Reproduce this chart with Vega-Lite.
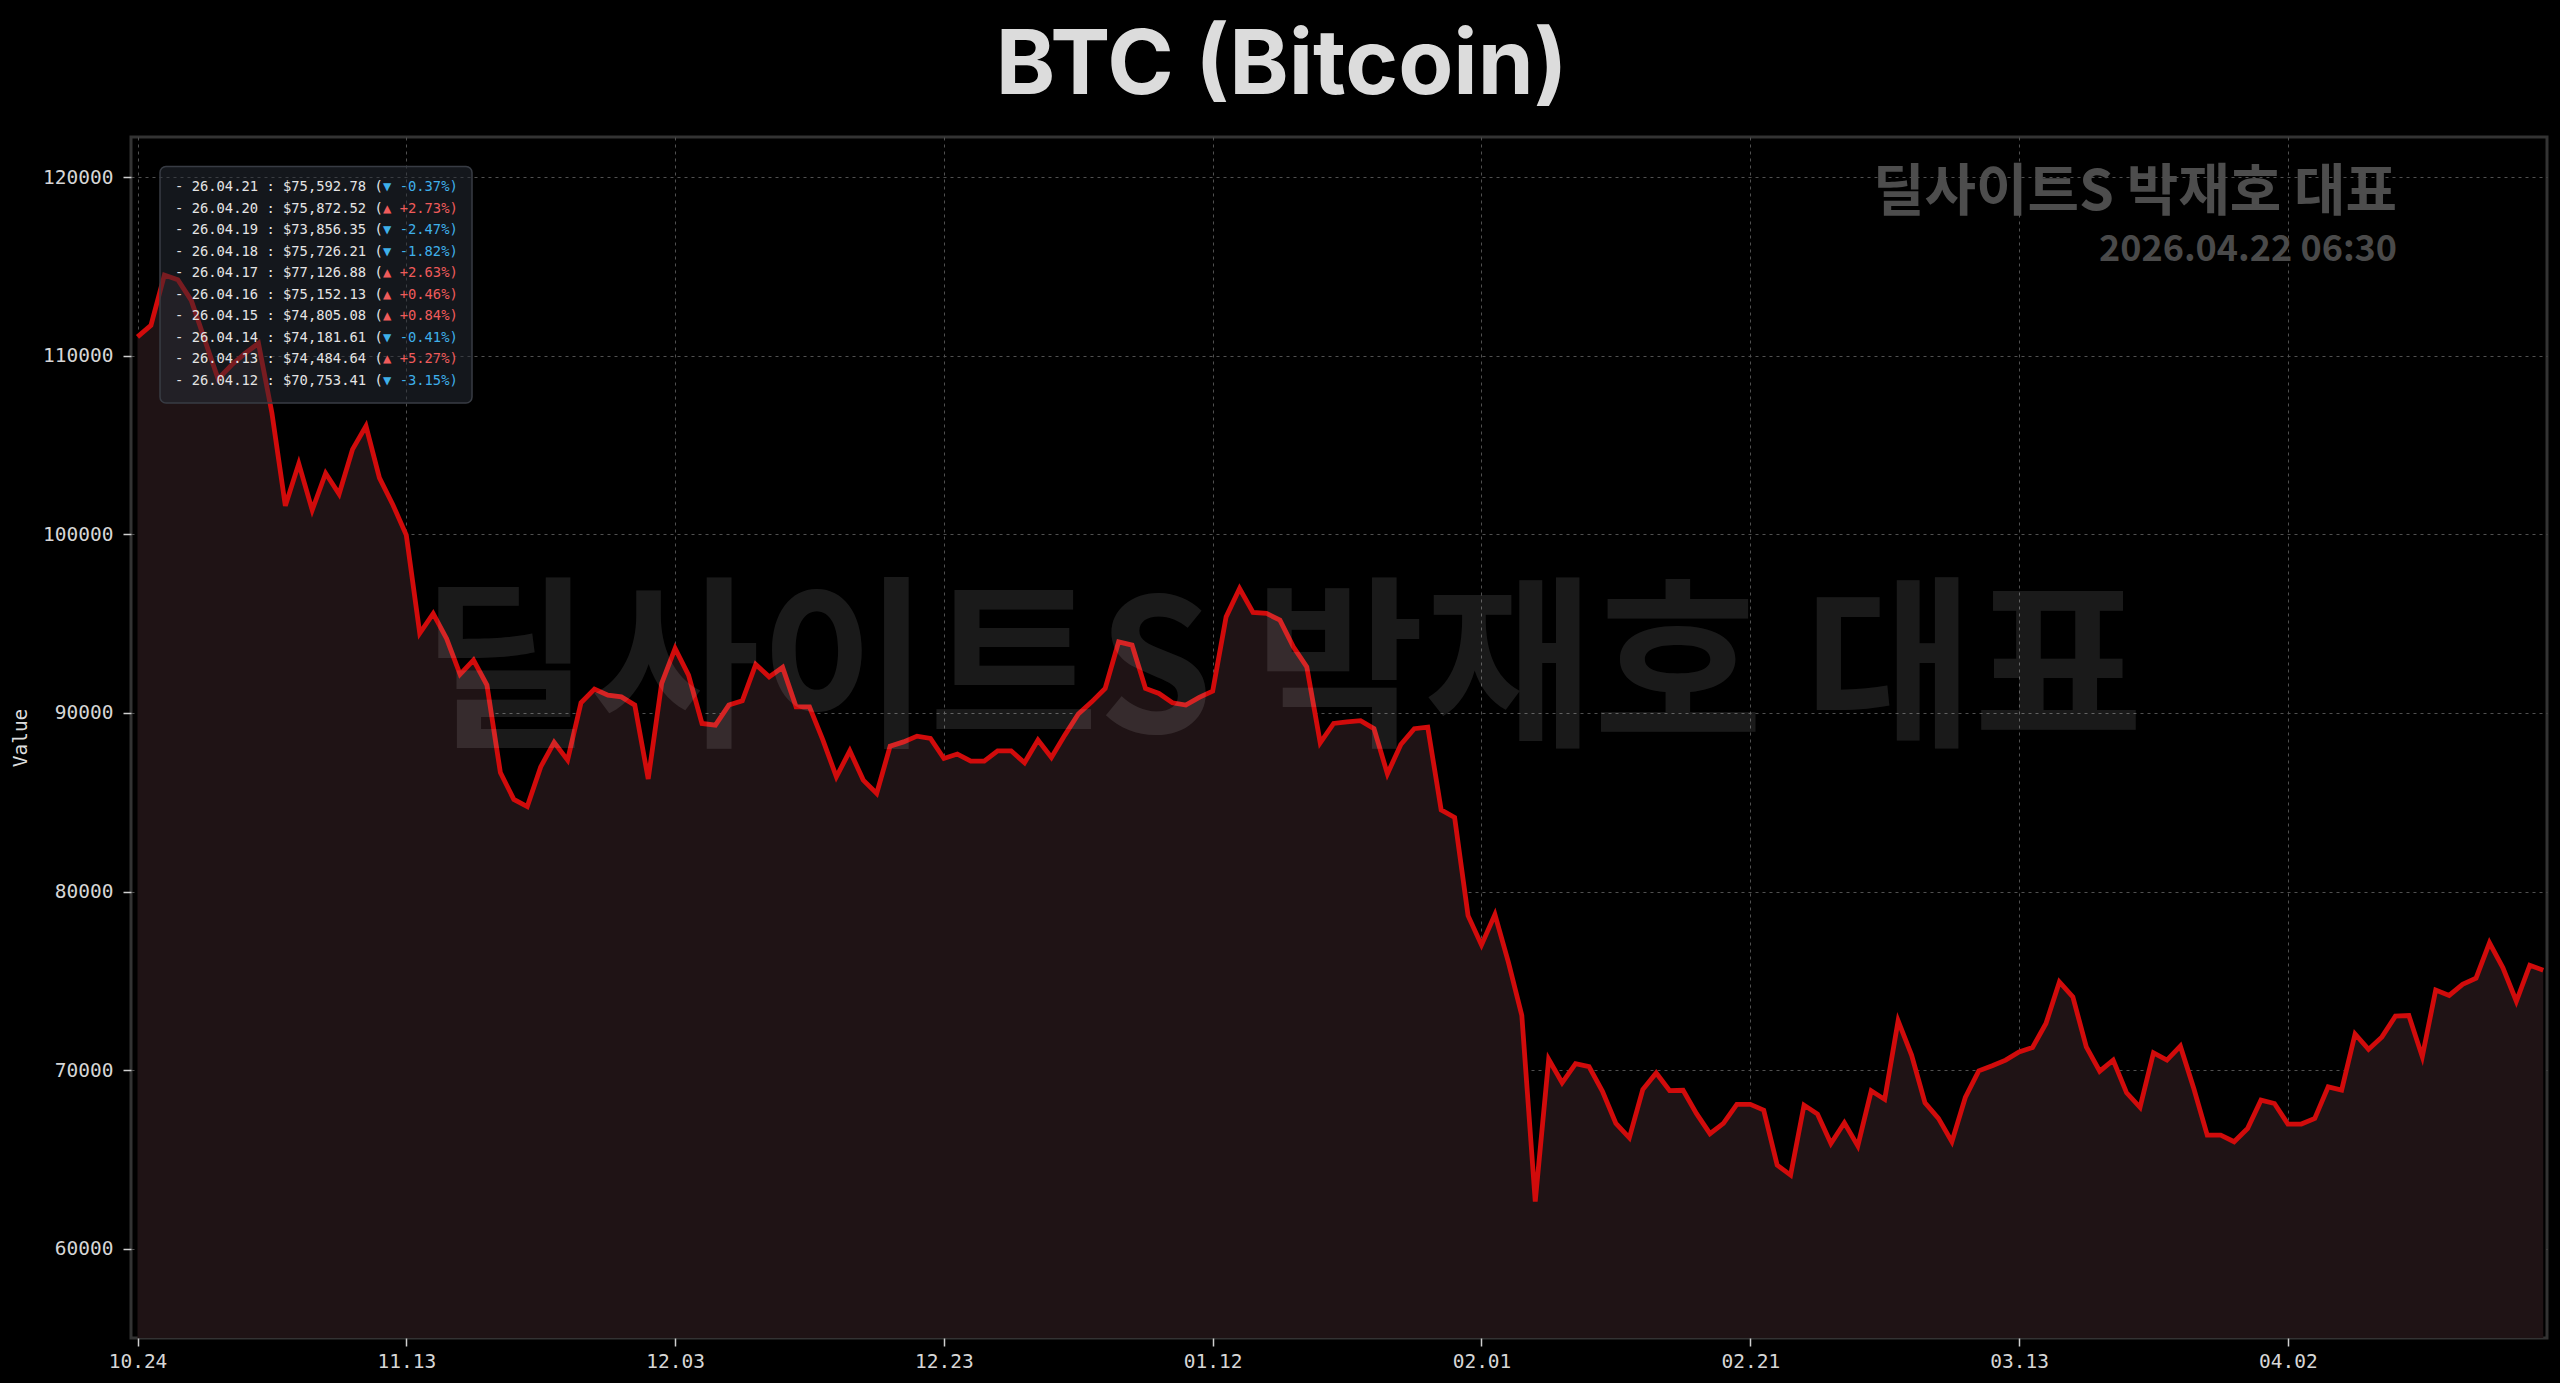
{
  "$schema": "https://vega.github.io/schema/vega-lite/v6.json",
  "autosize": {"type": "none"},
  "padding": {"left": 131, "top": 137, "right": 13, "bottom": 45},
  "width": 2416,
  "height": 1201,
  "background": "#000000",
  "title": {
    "text": "BTC (Bitcoin)",
    "font": "Inter",
    "fontWeight": "bold",
    "fontSize": 90,
    "color": "#dcdcdc",
    "anchor": "middle",
    "frame": "bounds",
    "baseline": "alphabetic",
    "offset": 38,
    "dy": 85
  },
  "config": {
    "view": {"stroke": "#333333", "strokeWidth": 3},
    "axis": {
      "domain": false,
      "tickColor": "#cfcfcf",
      "tickSize": 8,
      "tickWidth": 1.5,
      "grid": true,
      "gridColor": "#505050",
      "gridDash": [3, 4],
      "gridWidth": 1,
      "labelFont": "DejaVu Sans Mono",
      "labelFontSize": 19.5,
      "labelColor": "#d6d6d6",
      "titleFont": "DejaVu Sans Mono",
      "titleFontWeight": "normal",
      "titleFontSize": 19.5,
      "titleColor": "#dddddd"
    }
  },
  "datasets": {
    "btc": [
      {"date": "2025-10-24", "price": 111060}, {"date": "2025-10-25", "price": 111700}, {"date": "2025-10-26", "price": 114520}, {"date": "2025-10-27", "price": 114260}, {"date": "2025-10-28", "price": 113100}, {"date": "2025-10-29", "price": 110900}, {"date": "2025-10-30", "price": 108700}, {"date": "2025-10-31", "price": 109480},
      {"date": "2025-11-01", "price": 110130}, {"date": "2025-11-02", "price": 110700}, {"date": "2025-11-03", "price": 106800}, {"date": "2025-11-04", "price": 101600}, {"date": "2025-11-05", "price": 103960}, {"date": "2025-11-06", "price": 101360}, {"date": "2025-11-07", "price": 103420}, {"date": "2025-11-08", "price": 102260}, {"date": "2025-11-09", "price": 104760}, {"date": "2025-11-10", "price": 106060},
      {"date": "2025-11-11", "price": 103160}, {"date": "2025-11-12", "price": 101660}, {"date": "2025-11-13", "price": 99960}, {"date": "2025-11-14", "price": 94460}, {"date": "2025-11-15", "price": 95560}, {"date": "2025-11-16", "price": 94160}, {"date": "2025-11-17", "price": 92160}, {"date": "2025-11-18", "price": 92960}, {"date": "2025-11-19", "price": 91560}, {"date": "2025-11-20", "price": 86660},
      {"date": "2025-11-21", "price": 85160}, {"date": "2025-11-22", "price": 84760}, {"date": "2025-11-23", "price": 86980}, {"date": "2025-11-24", "price": 88350}, {"date": "2025-11-25", "price": 87360}, {"date": "2025-11-26", "price": 90570}, {"date": "2025-11-27", "price": 91340}, {"date": "2025-11-28", "price": 91000}, {"date": "2025-11-29", "price": 90900}, {"date": "2025-11-30", "price": 90440},
      {"date": "2025-12-01", "price": 86300}, {"date": "2025-12-02", "price": 91650}, {"date": "2025-12-03", "price": 93610}, {"date": "2025-12-04", "price": 92120}, {"date": "2025-12-05", "price": 89410}, {"date": "2025-12-06", "price": 89320}, {"date": "2025-12-07", "price": 90440}, {"date": "2025-12-08", "price": 90680}, {"date": "2025-12-09", "price": 92720}, {"date": "2025-12-10", "price": 92020},
      {"date": "2025-12-11", "price": 92550}, {"date": "2025-12-12", "price": 90340}, {"date": "2025-12-13", "price": 90340}, {"date": "2025-12-14", "price": 88480}, {"date": "2025-12-15", "price": 86420}, {"date": "2025-12-16", "price": 87880}, {"date": "2025-12-17", "price": 86240}, {"date": "2025-12-18", "price": 85490}, {"date": "2025-12-19", "price": 88140}, {"date": "2025-12-20", "price": 88380},
      {"date": "2025-12-21", "price": 88700}, {"date": "2025-12-22", "price": 88570}, {"date": "2025-12-23", "price": 87450}, {"date": "2025-12-24", "price": 87700}, {"date": "2025-12-25", "price": 87300}, {"date": "2025-12-26", "price": 87300}, {"date": "2025-12-27", "price": 87880}, {"date": "2025-12-28", "price": 87880}, {"date": "2025-12-29", "price": 87210}, {"date": "2025-12-30", "price": 88480}, {"date": "2025-12-31", "price": 87510},
      {"date": "2026-01-01", "price": 88760}, {"date": "2026-01-02", "price": 89940}, {"date": "2026-01-03", "price": 90620}, {"date": "2026-01-04", "price": 91370}, {"date": "2026-01-05", "price": 93980}, {"date": "2026-01-06", "price": 93800}, {"date": "2026-01-07", "price": 91370}, {"date": "2026-01-08", "price": 91090}, {"date": "2026-01-09", "price": 90570}, {"date": "2026-01-10", "price": 90440},
      {"date": "2026-01-11", "price": 90870}, {"date": "2026-01-12", "price": 91220}, {"date": "2026-01-13", "price": 95380}, {"date": "2026-01-14", "price": 96970}, {"date": "2026-01-15", "price": 95630}, {"date": "2026-01-16", "price": 95570}, {"date": "2026-01-17", "price": 95200}, {"date": "2026-01-18", "price": 93700}, {"date": "2026-01-19", "price": 92580}, {"date": "2026-01-20", "price": 88330},
      {"date": "2026-01-21", "price": 89410}, {"date": "2026-01-22", "price": 89500}, {"date": "2026-01-23", "price": 89570}, {"date": "2026-01-24", "price": 89120}, {"date": "2026-01-25", "price": 86590}, {"date": "2026-01-26", "price": 88230}, {"date": "2026-01-27", "price": 89120}, {"date": "2026-01-28", "price": 89200}, {"date": "2026-01-29", "price": 84570}, {"date": "2026-01-30", "price": 84150}, {"date": "2026-01-31", "price": 78650},
      {"date": "2026-02-01", "price": 77010}, {"date": "2026-02-02", "price": 78710}, {"date": "2026-02-03", "price": 76050}, {"date": "2026-02-04", "price": 73060}, {"date": "2026-02-05", "price": 62640}, {"date": "2026-02-06", "price": 70610}, {"date": "2026-02-07", "price": 69290}, {"date": "2026-02-08", "price": 70360}, {"date": "2026-02-09", "price": 70200}, {"date": "2026-02-10", "price": 68810},
      {"date": "2026-02-11", "price": 67020}, {"date": "2026-02-12", "price": 66210}, {"date": "2026-02-13", "price": 68910}, {"date": "2026-02-14", "price": 69840}, {"date": "2026-02-15", "price": 68850}, {"date": "2026-02-16", "price": 68870}, {"date": "2026-02-17", "price": 67560}, {"date": "2026-02-18", "price": 66440}, {"date": "2026-02-19", "price": 67020}, {"date": "2026-02-20", "price": 68080},
      {"date": "2026-02-21", "price": 68080}, {"date": "2026-02-22", "price": 67760}, {"date": "2026-02-23", "price": 64680}, {"date": "2026-02-24", "price": 64120}, {"date": "2026-02-25", "price": 68040}, {"date": "2026-02-26", "price": 67540}, {"date": "2026-02-27", "price": 65890}, {"date": "2026-02-28", "price": 67050},
      {"date": "2026-03-01", "price": 65760}, {"date": "2026-03-02", "price": 68840}, {"date": "2026-03-03", "price": 68360}, {"date": "2026-03-04", "price": 72760}, {"date": "2026-03-05", "price": 70840}, {"date": "2026-03-06", "price": 68170}, {"date": "2026-03-07", "price": 67300}, {"date": "2026-03-08", "price": 65990}, {"date": "2026-03-09", "price": 68470}, {"date": "2026-03-10", "price": 69960},
      {"date": "2026-03-11", "price": 70240}, {"date": "2026-03-12", "price": 70560}, {"date": "2026-03-13", "price": 71020}, {"date": "2026-03-14", "price": 71270}, {"date": "2026-03-15", "price": 72610}, {"date": "2026-03-16", "price": 74940}, {"date": "2026-03-17", "price": 74100}, {"date": "2026-03-18", "price": 71300}, {"date": "2026-03-19", "price": 69940}, {"date": "2026-03-20", "price": 70560},
      {"date": "2026-03-21", "price": 68730}, {"date": "2026-03-22", "price": 67910}, {"date": "2026-03-23", "price": 70970}, {"date": "2026-03-24", "price": 70560}, {"date": "2026-03-25", "price": 71340}, {"date": "2026-03-26", "price": 68970}, {"date": "2026-03-27", "price": 66360}, {"date": "2026-03-28", "price": 66360}, {"date": "2026-03-29", "price": 65990}, {"date": "2026-03-30", "price": 66730}, {"date": "2026-03-31", "price": 68320},
      {"date": "2026-04-01", "price": 68130}, {"date": "2026-04-02", "price": 66980}, {"date": "2026-04-03", "price": 66980}, {"date": "2026-04-04", "price": 67290}, {"date": "2026-04-05", "price": 69060}, {"date": "2026-04-06", "price": 68880}, {"date": "2026-04-07", "price": 72020}, {"date": "2026-04-08", "price": 71160}, {"date": "2026-04-09", "price": 71860}, {"date": "2026-04-10", "price": 73020},
      {"date": "2026-04-11", "price": 73054.5}, {"date": "2026-04-12", "price": 70753.41}, {"date": "2026-04-13", "price": 74484.64}, {"date": "2026-04-14", "price": 74181.61}, {"date": "2026-04-15", "price": 74805.08}, {"date": "2026-04-16", "price": 75152.13}, {"date": "2026-04-17", "price": 77126.88}, {"date": "2026-04-18", "price": 75726.21}, {"date": "2026-04-19", "price": 73856.35}, {"date": "2026-04-20", "price": 75872.52},
      {"date": "2026-04-21", "price": 75592.78}
    ],
    "recent": [
      {"dt": "26.04.21", "p": 75592.78, "c": -0.37},
      {"dt": "26.04.20", "p": 75872.52, "c": 2.73},
      {"dt": "26.04.19", "p": 73856.35, "c": -2.47},
      {"dt": "26.04.18", "p": 75726.21, "c": -1.82},
      {"dt": "26.04.17", "p": 77126.88, "c": 2.63},
      {"dt": "26.04.16", "p": 75152.13, "c": 0.46},
      {"dt": "26.04.15", "p": 74805.08, "c": 0.84},
      {"dt": "26.04.14", "p": 74181.61, "c": -0.41},
      {"dt": "26.04.13", "p": 74484.64, "c": 5.27},
      {"dt": "26.04.12", "p": 70753.41, "c": -3.15}
    ]
  },
  "layer": [
    {
      "data": {"name": "btc"},
      "encoding": {
        "x": {
          "field": "date",
          "type": "temporal",
          "title": null,
          "scale": {
            "type": "utc",
            "domain": [
              {"year": 2025, "month": 10, "date": 23, "hours": 12, "minutes": 23, "utc": true},
              {"year": 2026, "month": 4, "date": 21, "hours": 6, "minutes": 43, "utc": true}
            ]
          },
          "axis": {
            "format": "%m.%d",
            "formatType": "utc",
            "labelExpr": "utcFormat(datum.value, '%m.%d')",
            "labelPadding": 6,
            "values": [
              {"year": 2025, "month": 10, "date": 24, "utc": true},
              {"year": 2025, "month": 11, "date": 13, "utc": true},
              {"year": 2025, "month": 12, "date": 3, "utc": true},
              {"year": 2025, "month": 12, "date": 23, "utc": true},
              {"year": 2026, "month": 1, "date": 12, "utc": true},
              {"year": 2026, "month": 2, "date": 1, "utc": true},
              {"year": 2026, "month": 2, "date": 21, "utc": true},
              {"year": 2026, "month": 3, "date": 13, "utc": true},
              {"year": 2026, "month": 4, "date": 2, "utc": true}
            ]
          }
        },
        "y": {
          "field": "price",
          "type": "quantitative",
          "title": "Value",
          "scale": {"domain": [55000, 122250], "zero": false, "nice": false},
          "axis": {
            "format": "d",
            "labelPadding": 10,
            "titlePadding": 12,
            "values": [60000, 70000, 80000, 90000, 100000, 110000, 120000]
          }
        }
      },
      "layer": [
        {
          "mark": {"type": "area", "color": "#1f1315", "opacity": 1, "clip": true},
          "encoding": {"y2": {"datum": 55000}}
        },
        {"mark": {"type": "line", "color": "#d10b0b", "strokeWidth": 4.8}}
      ]
    },
    {
      "data": {"values": [{"t": "딜사이트S 박재호 대표"}]},
      "transform": [{"calculate": "92000", "as": "yv"}],
      "mark": {"type": "text", "font": "Noto Sans CJK KR", "fontWeight": "bold", "fontSize": 184, "color": "#ffffff", "opacity": 0.1, "align": "center", "baseline": "middle"},
      "encoding": {
        "text": {"field": "t"},
        "x": {"datum": {"year": 2026, "month": 1, "date": 17, "hours": 4, "utc": true}, "type": "temporal"},
        "y": {"field": "yv", "type": "quantitative", "axis": null, "scale": {"domain": [55000, 122250], "zero": false, "nice": false}}
      }
    },
    {
      "data": {"values": [{"t": "딜사이트S 박재호 대표"}]},
      "transform": [{"calculate": "119100", "as": "yv"}],
      "mark": {"type": "text", "font": "Noto Sans CJK KR", "fontWeight": "bold", "fontSize": 56, "color": "#4d4d4d", "align": "right", "baseline": "middle"},
      "encoding": {
        "text": {"field": "t"},
        "x": {"datum": {"year": 2026, "month": 4, "date": 10, "hours": 3, "utc": true}, "type": "temporal"},
        "y": {"field": "yv", "type": "quantitative", "axis": null, "scale": {"domain": [55000, 122250], "zero": false, "nice": false}}
      }
    },
    {
      "data": {"values": [{"t": "2026.04.22 06:30"}]},
      "transform": [{"calculate": "115900", "as": "yv"}],
      "mark": {"type": "text", "font": "Noto Sans CJK KR", "fontWeight": "bold", "fontSize": 36, "color": "#4a4a4a", "align": "right", "baseline": "middle"},
      "encoding": {
        "text": {"field": "t"},
        "x": {"datum": {"year": 2026, "month": 4, "date": 10, "hours": 3, "utc": true}, "type": "temporal"},
        "y": {"field": "yv", "type": "quantitative", "axis": null, "scale": {"domain": [55000, 122250], "zero": false, "nice": false}}
      }
    },
    {
      "data": {"values": [{"box": "recent"}]},
      "transform": [{"calculate": "120595", "as": "yv"}, {"calculate": "107351", "as": "yv2"}],
      "mark": {"type": "rect", "fill": "#262c36", "fillOpacity": 0.52, "stroke": "#383c44", "strokeWidth": 1.5, "cornerRadius": 6},
      "encoding": {
        "x": {"datum": {"year": 2025, "month": 10, "date": 25, "hours": 16, "minutes": 10, "utc": true}, "type": "temporal"},
        "x2": {"datum": {"year": 2025, "month": 11, "date": 17, "hours": 21, "minutes": 20, "utc": true}},
        "y": {"field": "yv", "type": "quantitative", "axis": null, "scale": {"domain": [55000, 122250], "zero": false, "nice": false}},
        "y2": {"field": "yv2"}
      }
    },
    {
      "data": {"name": "recent"},
      "transform": [
        {"calculate": "'- ' + datum.dt + ' : $' + format(datum.p, ',.2f') + ' ('", "as": "t1"},
        {"calculate": "(datum.c > 0 ? '▲ +' : '▼ -') + format(abs(datum.c), '.2f') + '%)'", "as": "t2"}
      ],
      "encoding": {
        "x": {"datum": {"year": 2025, "month": 10, "date": 26, "hours": 19, "utc": true}, "type": "temporal"},
        "y": {"field": "dt", "type": "ordinal", "sort": null, "axis": null, "scale": {"type": "point", "range": [50.3, 243.7], "padding": 0}}
      },
      "layer": [
        {
          "mark": {"type": "text", "font": "DejaVu Sans Mono", "fontSize": 13.8, "color": "#e4e4e4", "align": "left", "baseline": "middle"},
          "encoding": {"text": {"field": "t1"}}
        },
        {
          "mark": {"type": "text", "font": "DejaVu Sans Mono", "fontSize": 13.8, "align": "left", "baseline": "middle", "dx": 208},
          "encoding": {
            "text": {"field": "t2"},
            "color": {"condition": {"test": "datum.c > 0", "value": "#ef5b5b"}, "value": "#3fb0ea"}
          }
        }
      ]
    }
  ],
  "resolve": {"scale": {"y": "independent"}}
}
